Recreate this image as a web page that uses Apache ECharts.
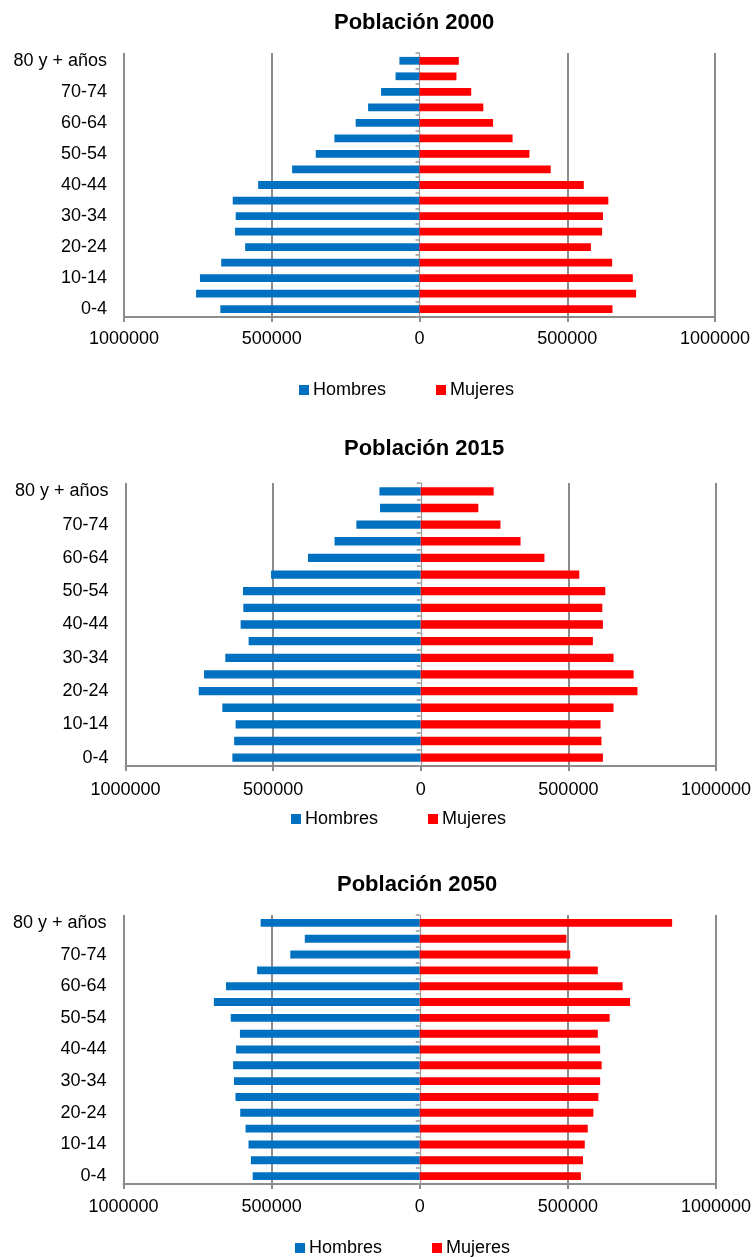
<!DOCTYPE html>
<html>
<head>
<meta charset="utf-8">
<title>Población 2000, 2015 y 2050</title>
<script src="https://cdn.jsdelivr.net/npm/echarts@6/dist/echarts.min.js"></script>
<style>
  html, body { margin: 0; padding: 0; background: #ffffff; }
  #chart { width: 755px; height: 1257px; }
</style>
</head>
<body>
<div id="chart"></div>
<script>
// Age groups, bottom (youngest) to top (oldest)
const ageGroups = ['0-4', '5-9', '10-14', '15-19', '20-24', '25-29', '30-34', '35-39',
  '40-44', '45-49', '50-54', '55-59', '60-64', '65-69', '70-74', '75-79', '80 y + años'];

const years = ['2000', '2015', '2050'];

// Population by age group (persons)
const hombres2000 = [674000, 756000, 743000, 671000, 590000, 624000, 622000, 632000,
  546000, 431000, 351000, 288000, 216000, 174000, 130000, 81000, 68000];
const mujeres2000 = [653000, 733000, 722000, 652000, 580000, 618000, 621000, 639000,
  556000, 444000, 372000, 315000, 249000, 216000, 175000, 125000, 133000];

const hombres2015 = [638000, 632000, 627000, 672000, 752000, 734000, 662000, 583000,
  610000, 601000, 602000, 507000, 382000, 292000, 218000, 138000, 140000];
const mujeres2015 = [617000, 612000, 609000, 653000, 734000, 721000, 653000, 583000,
  617000, 615000, 625000, 537000, 419000, 338000, 270000, 195000, 247000];

const hombres2050 = [564000, 570000, 578000, 588000, 606000, 622000, 627000, 630000,
  620000, 607000, 638000, 695000, 654000, 549000, 437000, 388000, 537000];
const mujeres2050 = [544000, 551000, 557000, 567000, 586000, 603000, 609000, 614000,
  609000, 601000, 641000, 710000, 685000, 601000, 508000, 495000, 852000];

const hombres = [hombres2000, hombres2015, hombres2050];
const mujeres = [mujeres2000, mujeres2015, mujeres2050];

const xTicks = { min: -1000000, max: 1000000, interval: 500000 };

// Panel placement
const panels = [
  { gridLeft: 124,   gridWidth: 591,   gridTop: 53,  gridHeight: 264, titleLeft: 334, titleTop: 12,  legendLeft: 299, legendTop: 381, labelMargin: 13 },
  { gridLeft: 125.5, gridWidth: 590.5, gridTop: 483, gridHeight: 283, titleLeft: 344, titleTop: 438, legendLeft: 291, legendTop: 810, labelMargin: 15 },
  { gridLeft: 123.5, gridWidth: 592.5, gridTop: 915, gridHeight: 269, titleLeft: 337, titleTop: 874, legendLeft: 295, legendTop: 1239, labelMargin: 14 }
];

const FONT = "'Liberation Sans', Arial, Helvetica, sans-serif";
const BLUE = '#0070C0';
const RED = '#FF0000';
const GRID_GRAY = '#8c8c8c';

const option = {
  animation: false,
  backgroundColor: '#ffffff',
  textStyle: { fontFamily: FONT },
  title: [], legend: [], grid: [], xAxis: [], yAxis: [], series: []
};

panels.forEach((p, i) => {
  option.title.push({
    text: 'Población ' + years[i],
    left: p.titleLeft, top: p.titleTop, padding: 0,
    textStyle: { fontFamily: FONT, fontSize: 22, fontWeight: 'bold', color: '#000' }
  });
  option.legend.push({
    data: ['Hombres', 'Mujeres'],
    left: p.legendLeft, top: p.legendTop, padding: 0,
    itemWidth: 10, itemHeight: 10, itemGap: 50,
    icon: 'rect',
    textStyle: { fontFamily: FONT, fontSize: 18, color: '#000', padding: [0, 0, 0, -1] }
  });
  option.grid.push({ left: p.gridLeft, width: p.gridWidth, top: p.gridTop, height: p.gridHeight, containLabel: false });

  option.xAxis.push({
    type: 'value', gridIndex: i,
    min: xTicks.min, max: xTicks.max, interval: xTicks.interval,
    axisLine: { show: true, onZero: false, lineStyle: { color: GRID_GRAY, width: 2 } },
    axisTick: { show: true, length: 5, lineStyle: { color: GRID_GRAY, width: 2 } },
    axisLabel: {
      margin: p.labelMargin, fontFamily: FONT, fontSize: 18, color: '#000',
      formatter: v => String(Math.abs(v))
    },
    splitLine: {
      show: true,
      lineStyle: { color: [GRID_GRAY, GRID_GRAY, 'rgba(0,0,0,0)', GRID_GRAY, GRID_GRAY], width: 2 }
    }
  });

  // Category labels along the left edge
  option.yAxis.push({
    type: 'category', gridIndex: i, data: ageGroups, position: 'left',
    axisLine: { show: false, onZero: false },
    axisTick: { show: false },
    axisLabel: { interval: 1, margin: 17, fontFamily: FONT, fontSize: 18, color: '#000' },
    splitLine: { show: false }
  });
  // Central axis line with tick marks between age groups
  option.yAxis.push({
    type: 'category', gridIndex: i, data: ageGroups, position: 'left',
    axisLine: { show: true, onZero: true, lineStyle: { color: '#9a9a9a', width: 1.2 } },
    axisTick: { show: true, interval: 0, length: 4, lineStyle: { color: '#9a9a9a', width: 1.5 } },
    axisLabel: { show: false },
    splitLine: { show: false }
  });

  option.series.push({
    name: 'Hombres', type: 'bar',
    xAxisIndex: i, yAxisIndex: 2 * i,
    data: hombres[i].map(v => -v),
    barWidth: '50%', barGap: '-100%',
    itemStyle: { color: BLUE },
    z: 1
  });
  option.series.push({
    name: 'Mujeres', type: 'bar',
    xAxisIndex: i, yAxisIndex: 2 * i,
    data: mujeres[i],
    barWidth: '50%', barGap: '-100%',
    itemStyle: { color: RED },
    z: 1
  });
});

const chart = echarts.init(document.getElementById('chart'), null, { renderer: 'canvas' });
chart.setOption(option);
</script>
</body>
</html>
